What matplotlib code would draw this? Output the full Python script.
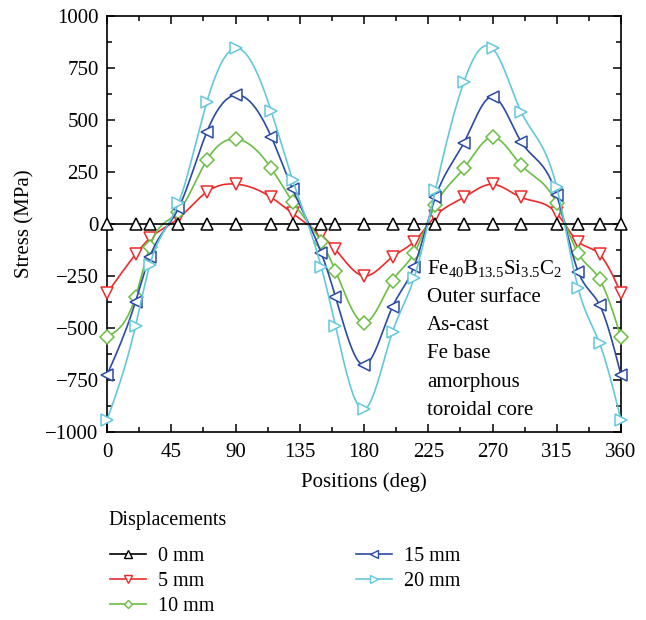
import numpy as np
import matplotlib
matplotlib.use('Agg')
import matplotlib.pyplot as plt
from matplotlib.lines import Line2D
from matplotlib.ticker import MultipleLocator

plt.rcParams['font.family'] = ['Liberation Serif', 'DejaVu Serif']
plt.rcParams['mathtext.fontset'] = 'custom'
plt.rcParams['mathtext.rm'] = 'Liberation Serif'
plt.rcParams['mathtext.it'] = 'Liberation Serif:italic'

# positions (deg) and stress (MPa)
positions = [0, 20, 30, 50, 70, 90, 115, 130, 150, 160, 180,
             200, 215, 230, 250, 270, 290, 315, 330, 345, 360]
stress_0mm = [0] * len(positions)
stress_5mm = [-333, -146, -69, 27, 155, 192, 128, 51, -53, -122, -250,
              -157, -85, 38, 128, 191, 128, 51, -85, -146, -333]
stress_10mm = [-542, -349, -109, 59, 308, 409, 268, 107, -85, -224, -474,
               -272, -141, 91, 268, 417, 284, 99, -141, -266, -545]
stress_15mm = [-726, -373, -157, 75, 444, 620, 420, 167, -138, -349, -678,
               -397, -205, 128, 391, 612, 396, 139, -229, -389, -726]
stress_20mm = [-942, -490, -197, 99, 588, 845, 543, 212, -205, -490, -891,
               -518, -261, 163, 684, 845, 540, 176, -309, -574, -942]

labels = ['0 mm', '5 mm', '10 mm', '15 mm', '20 mm']
colors = ['black', '#ee2a2a', '#6cbd45', '#2b4ba2', '#64c8da']
markers = ['^', 'v', 'D', '<', '>']
msizes = [9, 9, 7, 9, 9]
note_lines = [r'Fe$_{40}$B$_{13.5}$Si$_{3.5}$C$_2$', 'Outer surface', 'As-cast',
              'Fe base', 'amorphous', 'toroidal core']


def smooth(x, y, n=600):
    """natural cubic spline through the points, only for drawing the line"""
    x = np.asarray(x, float)
    y = np.asarray(y, float)
    h = np.diff(x)
    m = len(x)
    A = np.zeros((m, m))
    b = np.zeros(m)
    A[0, 0] = A[-1, -1] = 1
    for i in range(1, m - 1):
        A[i, i - 1] = h[i - 1]
        A[i, i] = 2 * (h[i - 1] + h[i])
        A[i, i + 1] = h[i]
        b[i] = 6 * ((y[i + 1] - y[i]) / h[i] - (y[i] - y[i - 1]) / h[i - 1])
    M = np.linalg.solve(A, b)
    xs = np.linspace(x[0], x[-1], n)
    k = np.clip(np.searchsorted(x, xs) - 1, 0, m - 2)
    t0 = x[k + 1] - xs
    t1 = xs - x[k]
    hk = h[k]
    ys = (M[k] * t0**3 + M[k + 1] * t1**3) / (6 * hk) \
        + (y[k] / hk - M[k] * hk / 6) * t0 + (y[k + 1] / hk - M[k + 1] * hk / 6) * t1
    return xs, ys


fig = plt.figure(figsize=(6.46, 6.2), dpi=100)
ax = fig.add_axes([107 / 646, 1 - 432 / 620, 514 / 646, 416 / 620])

series = [stress_0mm, stress_5mm, stress_10mm, stress_15mm, stress_20mm]
handles = []
for i, s in enumerate(series):
    z = 10 if i == 0 else 3 + i * 0.1
    xs, ys = smooth(positions, s)
    ax.plot(xs, ys, color=colors[i], lw=1.2, zorder=z)
    ax.plot(positions, s, ls='none', marker=markers[i], ms=msizes[i],
            mfc='white', mec=colors[i], mew=1.1, zorder=z + 0.05, clip_on=False)
    handles.append(Line2D([], [], color=colors[i], lw=1.2, marker=markers[i],
                          ms=msizes[i] * 0.6, mfc='white', mec=colors[i], mew=1.0))

ax.set_xlim(0, 360)
ax.set_ylim(-1000, 1000)
ax.xaxis.set_major_locator(MultipleLocator(45))
ax.xaxis.set_minor_locator(MultipleLocator(22.5))
ax.yaxis.set_major_locator(MultipleLocator(250))
ax.yaxis.set_minor_locator(MultipleLocator(125))
ax.tick_params(which='both', direction='in', top=True, right=True, labelsize=15, width=1.1)
ax.tick_params(which='major', length=6)
ax.tick_params(axis='x', which='major', pad=8)
ax.tick_params(axis='y', which='major', pad=6)
ax.tick_params(which='minor', length=3.5)
for sp in ax.spines.values():
    sp.set_linewidth(1.2)
ax.set_xlabel('Positions (deg)', fontsize=15, labelpad=7)
ax.set_ylabel('Stress (MPa)', fontsize=15, labelpad=8)

for j, line in enumerate(note_lines):
    ax.text(224, -238 - 136 * j, line, fontsize=15, ha='left', va='baseline')

fig.text(108 / 646, 1 - 520 / 620, 'Displacements', fontsize=14.5, ha='left', va='center')
leg = fig.legend(handles, labels, ncol=2, loc='upper left',
                 bbox_to_anchor=(94 / 646, 1 - 531 / 620), frameon=False,
                 fontsize=14.5, borderpad=0.3,
                 handlelength=1.8, handletextpad=0.6, columnspacing=7.0,
                 labelspacing=0.3)

fig.savefig('out.png', dpi=100)
